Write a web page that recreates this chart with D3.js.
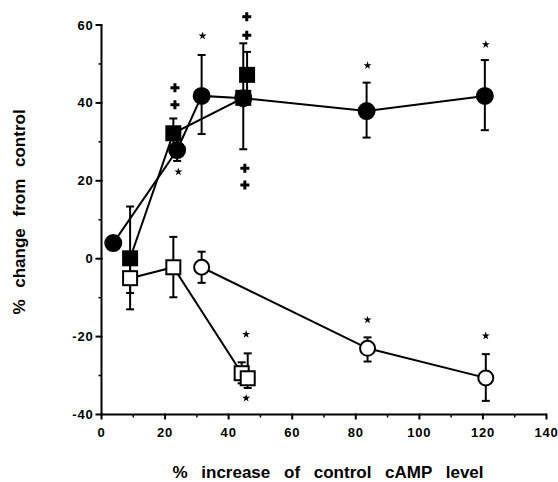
<!DOCTYPE html>
<html>
<head>
<meta charset="utf-8">
<script src="https://cdn.jsdelivr.net/npm/d3@7"></script>
<style>
  body { margin: 0; background: #fff; }
  text { font-family: 'Liberation Sans', Arial, sans-serif; font-weight: bold; fill: #000; }
  .tick-label { font-size: 13px; letter-spacing: 0.8px; }
  .axis-title { font-size: 17px; word-spacing: 9px; }
  .y-title { word-spacing: 7px; }
</style>
</head>
<body>
<div id="chart"></div>
<script>
// x = % increase of control cAMP, y = % change, hi/lo = error bar ends
var filledCircles = [
  { x: 3.7, y: 4.0, hi: null, lo: null },
  { x: 23.8, y: 27.9, hi: 31, lo: 25.1 },
  { x: 31.5, y: 41.8, hi: 52.3, lo: 32.0 },
  { x: 44.6, y: 41.2, hi: null, lo: null },
  { x: 83.4, y: 37.9, hi: 45.2, lo: 31.1 },
  { x: 120.6, y: 41.8, hi: 51.0, lo: 33.0 }
]
var filledSquares = [
  { x: 9.0, y: 0.1, hi: 13.4, lo: -8.8 },
  { x: 22.6, y: 32.2, hi: 36.0, lo: 29 },
  { x: 44.6, y: 41.3, hi: 55.3, lo: 28.1 }
]
var filledSquareExtra = [
  { x: 45.8, y: 47.2, hi: 53.1, lo: 42 }
]
var openCircles = [
  { x: 31.5, y: -2.2, hi: 1.8, lo: -6.2 },
  { x: 83.7, y: -23.0, hi: -20.2, lo: -26.4 },
  { x: 120.9, y: -30.6, hi: -24.5, lo: -36.5 }
]
var openSquares = [
  { x: 9.0, y: -5.0, hi: -1, lo: -13.0 },
  { x: 22.6, y: -2.2, hi: 5.6, lo: -9.9 },
  { x: 44.1, y: -29.4, hi: -26.6, lo: -32 }
]
var openSquareExtra = [
  { x: 46.0, y: -30.7, hi: -24.3, lo: -33.2 }
]
var stars = [
  { x: 24.2, y: 22.3 }, { x: 31.8, y: 57.2 }, { x: 83.7, y: 49.6 }, { x: 120.9, y: 55.0 },
  { x: 83.7, y: -15.7 }, { x: 120.9, y: -19.8 }, { x: 45.5, y: -19.4 }, { x: 45.5, y: -35.8 }
]
var plusses = [
  { x: 23.1, y: 43.9 }, { x: 23.1, y: 39.5 }, { x: 45.7, y: 62.1 }, { x: 45.7, y: 57.4 },
  { x: 45.1, y: 23.2 }, { x: 45.1, y: 18.9 }
]
var xTicks = [0, 20, 40, 60, 80, 100, 120, 140]
var yTicks = [-40, -20, 0, 20, 40, 60]

var margin = { top: 25, left: 101.5, right: 11.5, bottom: 67.5 }
var width = 558 - margin.left - margin.right
var height = 482 - margin.top - margin.bottom

var svg = d3
  .select('#chart')
  .append('svg')
  .attr('width', 558)
  .attr('height', 482)
  .append('g')
  .attr('transform', `translate(${margin.left},${margin.top})`)

let xScale = d3.scaleLinear().domain([0, 140]).range([0, width])
let yScale = d3.scaleLinear().domain([-40, 60]).range([height, 0])

/* Axes */
var xAxis = svg.append('g').attr('transform', `translate(0,${height})`)
xAxis.append('line').attr('x1', 0).attr('x2', width).attr('stroke', '#000').attr('stroke-width', 2)
xAxis.selectAll('.major')
  .data(xTicks)
  .enter()
  .append('line')
  .attr('x1', d => xScale(d)).attr('x2', d => xScale(d))
  .attr('y1', -1).attr('y2', 5)
  .attr('stroke', '#000').attr('stroke-width', 2)
xAxis.selectAll('.minor')
  .data(xTicks.slice(0, -1).map(d => d + 10))
  .enter()
  .append('line')
  .attr('x1', d => xScale(d)).attr('x2', d => xScale(d))
  .attr('y1', 0).attr('y2', 3)
  .attr('stroke', '#000').attr('stroke-width', 1.5)
xAxis.selectAll('text')
  .data(xTicks)
  .enter()
  .append('text')
  .attr('class', 'tick-label')
  .attr('x', d => xScale(d))
  .attr('y', 22)
  .attr('text-anchor', 'middle')
  .text(d => d)

var yAxis = svg.append('g')
yAxis.append('line').attr('y1', 0).attr('y2', height).attr('stroke', '#000').attr('stroke-width', 2)
yAxis.selectAll('.major')
  .data(yTicks)
  .enter()
  .append('line')
  .attr('y1', d => yScale(d)).attr('y2', d => yScale(d))
  .attr('x1', -6).attr('x2', 1)
  .attr('stroke', '#000').attr('stroke-width', 2)
yAxis.selectAll('.minor')
  .data(yTicks.slice(0, -1).map(d => d + 10))
  .enter()
  .append('line')
  .attr('y1', d => yScale(d)).attr('y2', d => yScale(d))
  .attr('x1', -3).attr('x2', 0)
  .attr('stroke', '#000').attr('stroke-width', 1.5)
yAxis.selectAll('text')
  .data(yTicks)
  .enter()
  .append('text')
  .attr('class', 'tick-label')
  .attr('x', -8)
  .attr('y', d => yScale(d) + 4.5)
  .attr('text-anchor', 'end')
  .text(d => d)

svg.append('text')
  .attr('class', 'axis-title')
  .attr('x', width / 2 + 4)
  .attr('y', height + 63)
  .attr('text-anchor', 'middle')
  .text('% increase of control cAMP level')

svg.append('text')
  .attr('class', 'axis-title y-title')
  .attr('transform', `translate(${-77},${yScale(12)}) rotate(-90)`)
  .attr('text-anchor', 'middle')
  .text('% change from control')

/* Connecting lines */
var line = d3.line().x(d => xScale(d.x)).y(d => yScale(d.y))
;[filledCircles, filledSquares, openCircles, openSquares].forEach(series => {
  svg.append('path')
    .datum(series)
    .attr('d', line)
    .attr('fill', 'none')
    .attr('stroke', '#000')
    .attr('stroke-width', 2)
})

/* Error bars */
var allPoints = [].concat(filledCircles, filledSquares, filledSquareExtra, openCircles, openSquares, openSquareExtra)
  .filter(d => d.hi !== null)
var bars = svg.selectAll('.err').data(allPoints).enter().append('g')
bars.append('line')
  .attr('x1', d => xScale(d.x)).attr('x2', d => xScale(d.x))
  .attr('y1', d => yScale(d.hi)).attr('y2', d => yScale(d.lo))
  .attr('stroke', '#000').attr('stroke-width', 2)
bars.each(function(d) {
  let g = d3.select(this)
  ;[d.hi, d.lo].forEach(v => {
    g.append('line')
      .attr('x1', xScale(d.x) - 4).attr('x2', xScale(d.x) + 4)
      .attr('y1', yScale(v)).attr('y2', yScale(v))
      .attr('stroke', '#000').attr('stroke-width', 2)
  })
})

/* Markers */
function drawCircles(data, fill, r) {
  svg.selectAll(null).data(data).enter().append('circle')
    .attr('cx', d => xScale(d.x)).attr('cy', d => yScale(d.y))
    .attr('r', r)
    .attr('fill', fill).attr('stroke', '#000').attr('stroke-width', 2)
}
function drawSquares(data, fill, s) {
  svg.selectAll(null).data(data).enter().append('rect')
    .attr('x', d => xScale(d.x) - s / 2).attr('y', d => yScale(d.y) - s / 2)
    .attr('width', s).attr('height', s)
    .attr('fill', fill).attr('stroke', '#000').attr('stroke-width', 2)
}
drawCircles(filledCircles, '#000', 8)
drawSquares(filledSquares, '#000', 14)
drawSquares(filledSquareExtra, '#000', 14)
drawCircles(openCircles, '#fff', 7.5)
drawSquares(openSquares, '#fff', 14)
drawSquares(openSquareExtra, '#fff', 14)

/* Significance marks */
svg.selectAll('.star').data(stars).enter().append('path')
  .attr('transform', d => `translate(${xScale(d.x)},${yScale(d.y)})`)
  .attr('d', d3.symbol(d3.symbolStar, 20))
  .attr('fill', '#000')
svg.selectAll('.plus').data(plusses).enter().append('path')
  .attr('transform', d => `translate(${xScale(d.x)},${yScale(d.y)})`)
  .attr('d', d3.symbol(d3.symbolCross, 45))
  .attr('fill', '#000')
</script>
</body>
</html>
